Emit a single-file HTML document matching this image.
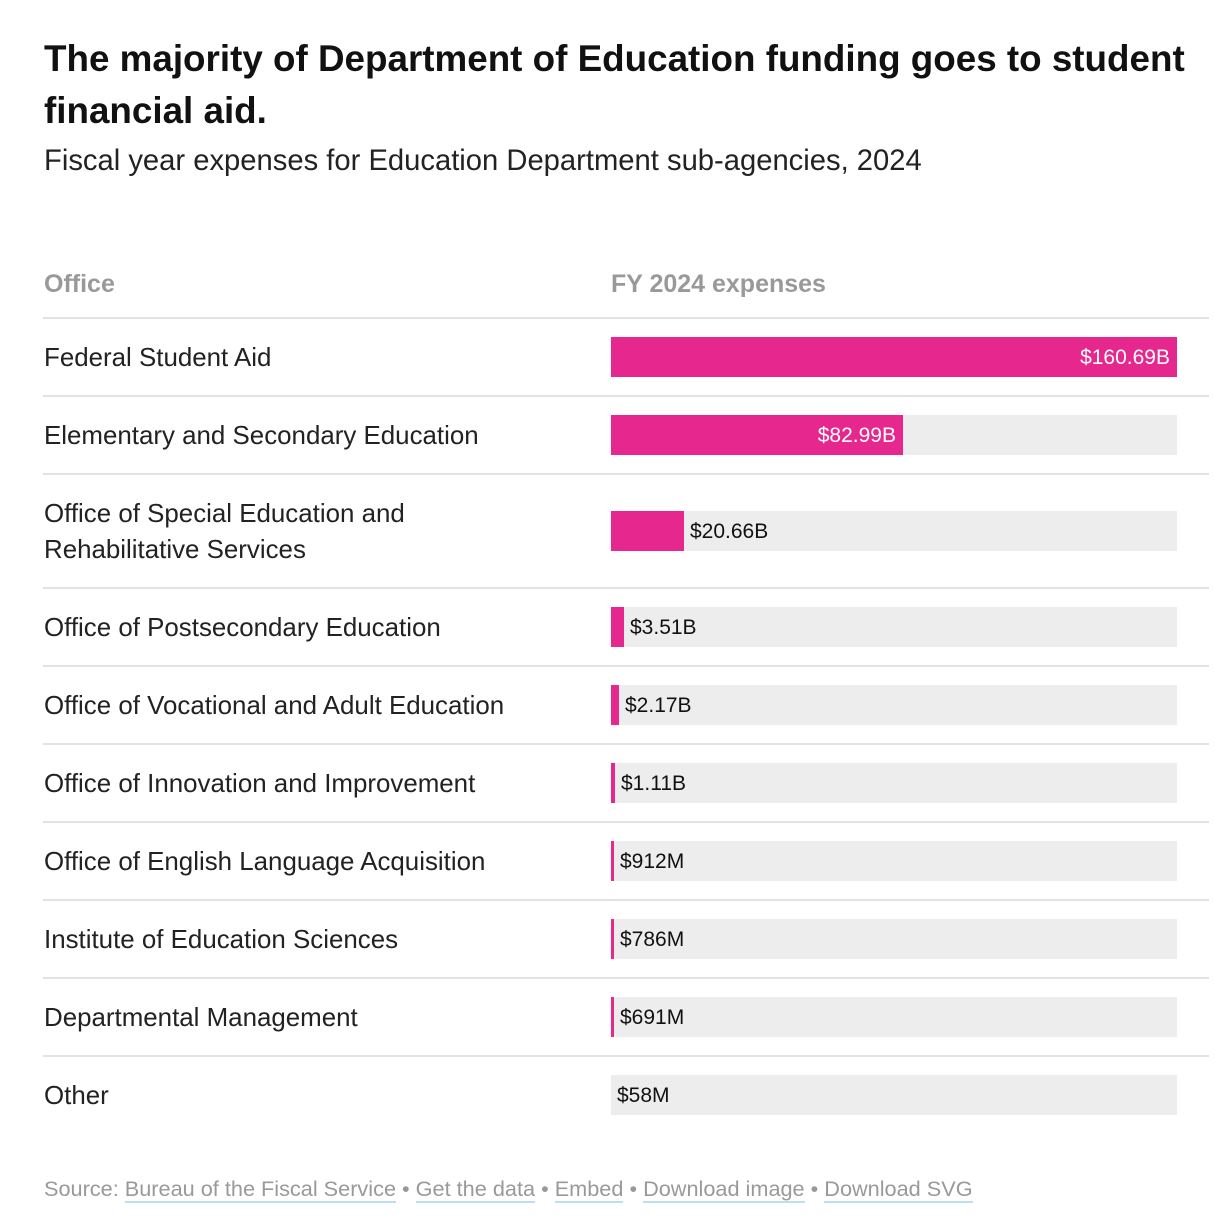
<!DOCTYPE html>
<html><head><meta charset="utf-8"><style>
body{margin:0;width:1215px;height:1230px;background:#fff;font-family:"Liberation Sans",sans-serif;color:#111;position:relative;overflow:hidden}
.a{position:absolute}
h1{position:absolute;left:44px;top:33px;margin:0;font-size:36.8px;line-height:52px;font-weight:bold;width:1168px;letter-spacing:0}
.sub{left:44px;top:145px;font-size:29.2px;color:#222}
.hd{top:270px;font-size:25px;font-weight:bold;color:#999}
.ln{left:43px;width:1166px;height:2px;background:#e2e2e2}
.lab{left:44px;font-size:25.9px;line-height:36px;color:#222}
.bg{left:611px;width:566px;height:40px;background:#ededed}
.bar{left:611px;height:40px;background:#e6288e}
.v{font-size:21px;line-height:40px}
.src{left:44px;top:1176px;font-size:21.7px;color:#999}
.src u{text-decoration:none;border-bottom:2px solid #b9dff0;color:#999}
</style></head><body>
<h1>The majority of Department of Education funding goes to student financial aid.</h1>
<div class="a sub">Fiscal year expenses for Education Department sub-agencies, 2024</div>
<div class="a hd" style="left:44px">Office</div>
<div class="a hd" style="left:611px">FY 2024 expenses</div>
<div class="a ln" style="top:317px"></div>
<div class="a ln" style="top:395px"></div>
<div class="a ln" style="top:473px"></div>
<div class="a ln" style="top:587px"></div>
<div class="a ln" style="top:665px"></div>
<div class="a ln" style="top:743px"></div>
<div class="a ln" style="top:821px"></div>
<div class="a ln" style="top:899px"></div>
<div class="a ln" style="top:977px"></div>
<div class="a ln" style="top:1055px"></div>

<div class="a lab" style="top:340px">Federal Student Aid</div>
<div class="a bg" style="top:337px"></div><div class="a bar" style="top:337px;width:566px"></div>
<div class="a v" style="top:338px;left:611px;width:559px;text-align:right;color:#fff">$160.69B</div>

<div class="a lab" style="top:418px">Elementary and Secondary Education</div>
<div class="a bg" style="top:415px"></div><div class="a bar" style="top:415px;width:292px"></div>
<div class="a v" style="top:416px;left:611px;width:285px;text-align:right;color:#fff">$82.99B</div>

<div class="a lab" style="top:496px">Office of Special Education and<br>Rehabilitative Services</div>
<div class="a bg" style="top:511px"></div><div class="a bar" style="top:511px;width:73px"></div>
<div class="a v" style="top:512px;left:690px">$20.66B</div>

<div class="a lab" style="top:610px">Office of Postsecondary Education</div>
<div class="a bg" style="top:607px"></div><div class="a bar" style="top:607px;width:13px"></div>
<div class="a v" style="top:608px;left:630px">$3.51B</div>

<div class="a lab" style="top:688px">Office of Vocational and Adult Education</div>
<div class="a bg" style="top:685px"></div><div class="a bar" style="top:685px;width:8px"></div>
<div class="a v" style="top:686px;left:625px">$2.17B</div>

<div class="a lab" style="top:766px">Office of Innovation and Improvement</div>
<div class="a bg" style="top:763px"></div><div class="a bar" style="top:763px;width:4px"></div>
<div class="a v" style="top:764px;left:621px">$1.11B</div>

<div class="a lab" style="top:844px">Office of English Language Acquisition</div>
<div class="a bg" style="top:841px"></div><div class="a bar" style="top:841px;width:3px"></div>
<div class="a v" style="top:842px;left:620px">$912M</div>

<div class="a lab" style="top:922px">Institute of Education Sciences</div>
<div class="a bg" style="top:919px"></div><div class="a bar" style="top:919px;width:3px"></div>
<div class="a v" style="top:920px;left:620px">$786M</div>

<div class="a lab" style="top:1000px">Departmental Management</div>
<div class="a bg" style="top:997px"></div><div class="a bar" style="top:997px;width:3px"></div>
<div class="a v" style="top:998px;left:620px">$691M</div>

<div class="a lab" style="top:1078px">Other</div>
<div class="a bg" style="top:1075px"></div>
<div class="a v" style="top:1076px;left:617px">$58M</div>

<div class="a src">Source: <u>Bureau of the Fiscal Service</u> • <u>Get the data</u> • <u>Embed</u> • <u>Download image</u> • <u>Download SVG</u></div>
</body></html>
